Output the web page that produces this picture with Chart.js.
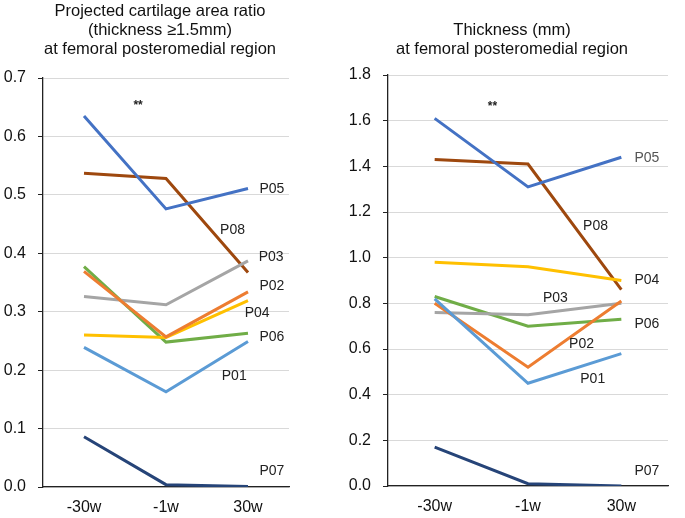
<!DOCTYPE html>
<html>
<head>
<meta charset="utf-8">
<script src="https://cdn.jsdelivr.net/npm/chart.js@4"></script>
<style>
  body { margin: 0; background: #fff; }
  .box { position: absolute; top: 0; height: 518px; }
</style>
</head>
<body>
<div class="box" style="left:0;width:340px"><canvas id="graficaRatio"></canvas></div>
<div class="box" style="left:340px;width:345px"><canvas id="graficaGrosor"></canvas></div>
<script>
var categories = ["-30w", "-1w", "30w"];
var seriesNames = ["P01", "P02", "P03", "P04", "P05", "P06", "P07", "P08"];
var seriesColors = ["#5B9BD5", "#ED7D31", "#A5A5A5", "#FFC000", "#4472C4", "#70AD47", "#264478", "#9E480E"];

// projected cartilage area ratio (thickness >= 1.5mm)
var ratioValues = [
    [0.239, 0.163, 0.249],
    [0.369, 0.257, 0.334],
    [0.326, 0.312, 0.387],
    [0.260, 0.256, 0.319],
    [0.635, 0.476, 0.511],
    [0.377, 0.248, 0.263],
    [0.086, 0.004, 0.001],
    [0.537, 0.528, 0.367]
];

// thickness (mm)
var thicknessValues = [
    [0.82, 0.45, 0.58],
    [0.80, 0.52, 0.81],
    [0.76, 0.75, 0.80],
    [0.98, 0.96, 0.90],
    [1.61, 1.31, 1.44],
    [0.83, 0.70, 0.73],
    [0.17, 0.01, 0.00],
    [1.43, 1.41, 0.86]
];

var ratioTicks = [0, 0.7, 0.1];      // min, max, step
var thicknessTicks = [0, 1.8, 0.2];

var ratioTitle = ["Projected cartilage area ratio", "(thickness \u22651.5mm)", "at femoral posteromedial region"];
var thicknessTitle = ["Thickness (mm)", "at femoral posteromedial region"];

// where the series names sit: [category index, value]
var ratioLabelSpots = [[1.68, 0.190], [2.14, 0.343], [2.13, 0.393], [1.96, 0.297], [2.14, 0.510], [2.14, 0.257], [2.14, 0.027], [1.66, 0.440]];
var thicknessLabelSpots = [[1.56, 0.469], [1.44, 0.623], [1.16, 0.823], [2.14, 0.902], [2.14, 1.434], [2.14, 0.707], [2.14, 0.064], [1.59, 1.140]];
var ratioStars = [0.66, 0.652];
var thicknessStars = [0.62, 1.662];

var fuente = '"Liberation Sans", Arial, sans-serif';

var textosPlugin = {
    id: "textos",
    afterDatasetsDraw: function (chart, args, opts) {
        var ctx = chart.ctx;
        var x = chart.scales.x, y = chart.scales.y;
        ctx.save();
        // title
        ctx.fillStyle = "#111";
        ctx.font = "16.5px " + fuente;
        ctx.textAlign = "center";
        ctx.textBaseline = "middle";
        var lineas = opts.title;
        var top = opts.titleBottom - 19 * (lineas.length - 1);
        for (var i = 0; i < lineas.length; i++) {
            ctx.fillText(lineas[i], opts.titleX, top + 19 * i);
        }
        // series names
        ctx.font = "14px " + fuente;
        ctx.textAlign = "left";
        for (var j = 0; j < seriesNames.length; j++) {
            var s = opts.spots[j];
            ctx.fillStyle = opts.labelColors ? opts.labelColors[j] : "#222";
            ctx.fillText(seriesNames[j], x.getPixelForValue(s[0]), y.getPixelForValue(s[1]));
        }
        // significance mark
        ctx.fillStyle = "#222";
        ctx.font = "bold 12px " + fuente;
        ctx.textAlign = "center";
        ctx.fillText("**", x.getPixelForValue(opts.stars[0]), y.getPixelForValue(opts.stars[1]));
        ctx.restore();
    }
};

function crearGrafica(id, valores, rango, extra) {
    var ctx = document.getElementById(id).getContext("2d");
    var datasets = seriesNames.map(function (nombre, i) {
        return {
            label: nombre,
            data: valores[i],
            borderColor: seriesColors[i],
            backgroundColor: seriesColors[i],
            borderWidth: 3,
            pointRadius: 0,
            tension: 0
        };
    });
    return new Chart(ctx, {
        type: "line",
        data: { labels: categories, datasets: datasets },
        plugins: [textosPlugin],
        options: {
            responsive: true,
            maintainAspectRatio: false,
            animation: false,
            layout: { padding: { top: extra.top, right: extra.right, left: 0, bottom: 0 } },
            plugins: {
                legend: { display: false },
                tooltip: { enabled: false },
                textos: {
                    title: extra.title,
                    titleX: extra.titleX,
                    titleBottom: extra.titleBottom,
                    spots: extra.spots,
                    stars: extra.stars,
                    labelColors: extra.labelColors
                }
            },
            scales: {
                x: {
                    offset: true,
                    grid: { display: false, drawTicks: false },
                    border: { display: true, color: "#222", width: 1.3 },
                    ticks: { color: "#111", font: { family: fuente, size: 16 }, padding: 11, maxRotation: 0 },
                    afterFit: function (s) { s.height = extra.bottom; }
                },
                y: {
                    min: rango[0],
                    max: rango[1],
                    grid: { color: "#d9d9d9", tickColor: "#222", tickLength: 5, lineWidth: 1 },
                    border: { display: true, color: "#222", width: 1.3 },
                    ticks: {
                        stepSize: rango[2],
                        color: "#111",
                        font: { family: fuente, size: 16 },
                        padding: 12,
                        callback: function (v) { return Number(v).toFixed(1); }
                    },
                    afterFit: function (s) { s.width = extra.left; }
                }
            }
        }
    });
}

crearGrafica("graficaRatio", ratioValues, ratioTicks, {
    top: 78, right: 51, left: 43, bottom: 31,
    title: ratioTitle, titleX: 160, titleBottom: 49,
    spots: ratioLabelSpots, stars: ratioStars
});

crearGrafica("graficaGrosor", thicknessValues, thicknessTicks, {
    top: 75, right: 17, left: 48, bottom: 32,
    title: thicknessTitle, titleX: 172, titleBottom: 49,
    spots: thicknessLabelSpots, stars: thicknessStars,
    labelColors: ["#222", "#222", "#222", "#222", "#555", "#222", "#222", "#222"]
});
</script>
</body>
</html>
